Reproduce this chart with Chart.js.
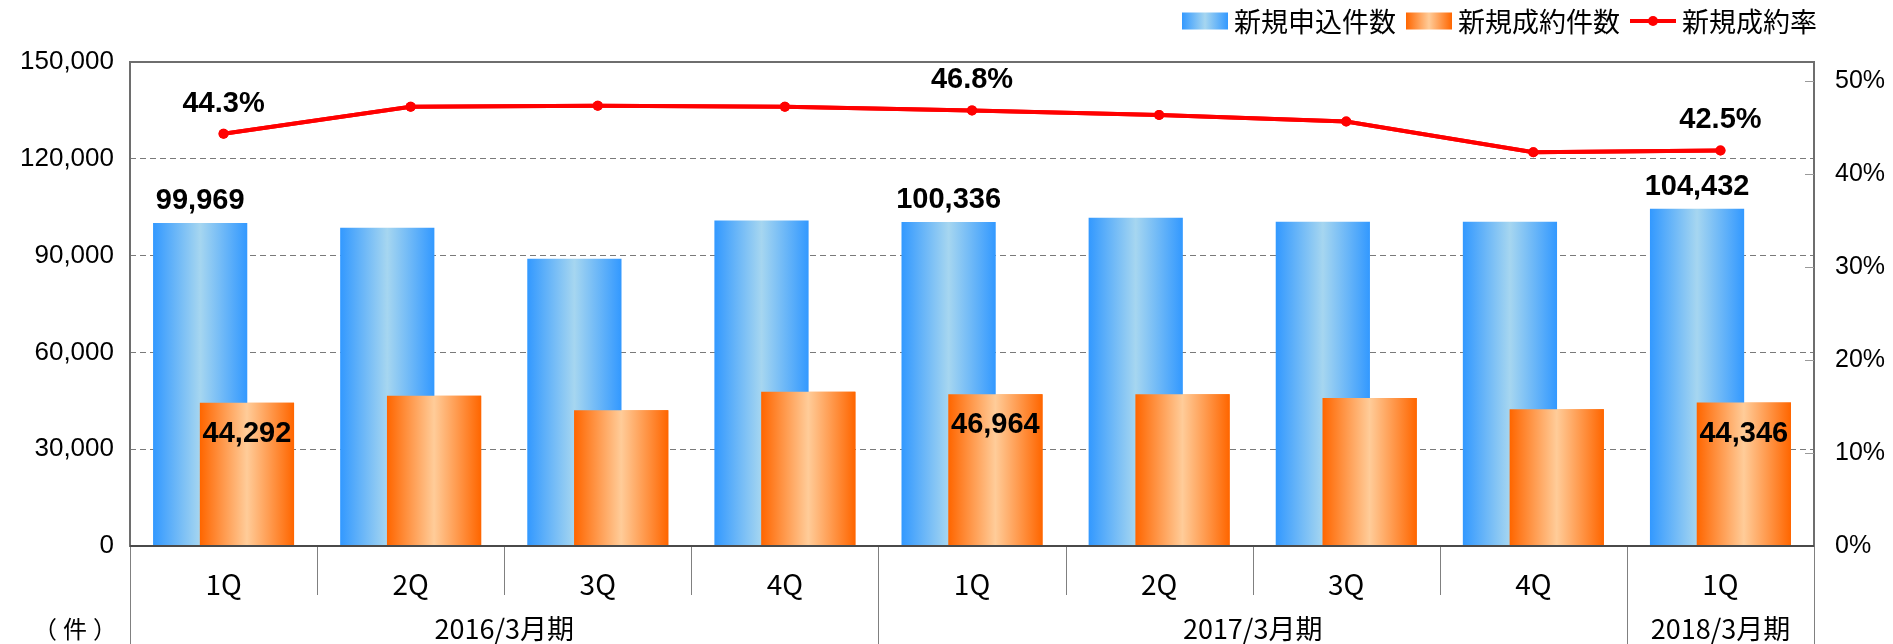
<!DOCTYPE html>
<html><head><meta charset="utf-8">
<script src="https://cdn.jsdelivr.net/npm/chart.js@4.4.0/dist/chart.umd.min.js"></script>
<style>html,body{margin:0;padding:0;background:#fff;}#wrap{width:1893px;height:644px;position:relative;}</style>
</head><body><div id="wrap"><canvas id="c"></canvas></div>
<script>
// ---- data ----
const quarters = ['1Q','2Q','3Q','4Q','1Q','2Q','3Q','4Q','1Q'];
const fiscalYears = ['2016/3月期','2017/3月期','2018/3月期'];
const fiscalYearQuarterCounts = [4,4,1];
const applications = [99969, 98500, 88900, 100800, 100336, 101600, 100400, 100400, 104432];
const contracts = [44292, 46500, 42000, 47700, 46964, 46900, 45800, 42300, 44346];
const contractRate = [44.3, 47.2, 47.3, 47.2, 46.8, 46.3, 45.6, 42.3, 42.5];
const seriesNames = ['新規申込件数','新規成約件数','新規成約率'];
const leftAxisRange = [0, 150000, 30000];
const rightAxisRange = [0, 52, 10];
const rightTickMax = 50;
const labeledPoints = [0, 4, 8];
const unitLabel = '（件）';

// ---- styles ----
const SANS = '"Liberation Sans", Arial, "Noto Sans CJK JP", sans-serif';
const NARROW = '"Liberation Sans Narrow", "Arial Narrow", "Noto Sans CJK JP", sans-serif';
const CJK = '"Noto Sans CJK JP", "Liberation Sans", sans-serif';
const CAT_PCT = 0.5, BAR_PCT = 2.0;
const BLUE = ['#3399FF', '#A6D6F0'];
const ORANGE = ['#FF6600', '#FFCC99'];
const RED = '#FF0000';

function barGrad(c, side, cols) {
  const chart = c.chart, xs = chart.scales && chart.scales.x;
  if (!xs || !xs.width || c.dataIndex === undefined) return cols[0];
  const catW = xs.width / quarters.length;
  const chunk = catW * CAT_PCT / 2;
  const center = xs.getPixelForValue(c.dataIndex) + (side - 0.5) * chunk;
  const w = chunk * BAR_PCT;
  const g = chart.ctx.createLinearGradient(center - w / 2, 0, center + w / 2, 0);
  g.addColorStop(0, cols[0]); g.addColorStop(0.5, cols[1]); g.addColorStop(1, cols[0]);
  return g;
}

const fmt = v => v.toLocaleString('en-US');

const decor = {
  id: 'decor',
  afterDatasetsDraw(chart) {
    const ctx = chart.ctx, a = chart.chartArea;
    ctx.save();
    ctx.beginPath(); ctx.rect(a.left, a.top, a.right - a.left, a.bottom - a.top); ctx.clip();
    chart.getDatasetMeta(1).controller.draw();
    chart.getDatasetMeta(2).controller.draw();
    ctx.restore();
  },
  afterDraw(chart) {
    const ctx = chart.ctx, a = chart.chartArea, xs = chart.scales.x, y2 = chart.scales.y2;
    const H = chart.height;
    ctx.save();
    // plot frame
    ctx.strokeStyle = '#6e6e6e'; ctx.lineWidth = 2;
    ctx.strokeRect(a.left, a.top, a.right - a.left, a.bottom - a.top);
    ctx.strokeStyle = '#4a4a4a';
    ctx.beginPath(); ctx.moveTo(a.left, a.bottom); ctx.lineTo(a.right, a.bottom); ctx.stroke();
    // right inner tick marks
    ctx.strokeStyle = '#9a9a9a'; ctx.lineWidth = 1;
    y2.ticks.forEach(t => {
      if (t.value === 0) return;
      const y = Math.round(y2.getPixelForValue(t.value)) + 0.5;
      ctx.beginPath(); ctx.moveTo(a.right - 9, y); ctx.lineTo(a.right, y); ctx.stroke();
    });
    // category separators (two-level axis)
    const catW = xs.getPixelForValue(1) - xs.getPixelForValue(0);
    const groupEdges = [0];
    fiscalYearQuarterCounts.forEach(n => groupEdges.push(groupEdges[groupEdges.length - 1] + n));
    ctx.strokeStyle = '#808080'; ctx.lineWidth = 1;
    for (let i = 0; i <= quarters.length; i++) {
      const x = Math.round(xs.getPixelForValue(i) - catW / 2) + 0.5;
      const long = groupEdges.includes(i);
      ctx.beginPath(); ctx.moveTo(x, a.bottom + 1); ctx.lineTo(x, long ? H : a.bottom + 49); ctx.stroke();
    }
    // group labels
    ctx.fillStyle = '#000'; ctx.textAlign = 'center'; ctx.textBaseline = 'middle';
    ctx.font = '27px ' + NARROW;
    fiscalYears.forEach((g, k) => {
      const x0 = xs.getPixelForValue(groupEdges[k]) - catW / 2;
      const x1 = xs.getPixelForValue(groupEdges[k + 1] - 1) + catW / 2;
      ctx.fillText(g, (x0 + x1) / 2, 629);
    });
    ctx.font = '24px ' + CJK;
    try { ctx.letterSpacing = '6px'; } catch (e) {}
    ctx.fillText(unitLabel, 78, 629);
    try { ctx.letterSpacing = '0px'; } catch (e) {}
    // data labels
    ctx.font = 'bold 29px ' + SANS;
    const m0 = chart.getDatasetMeta(0), m1 = chart.getDatasetMeta(1), m2 = chart.getDatasetMeta(2);
    labeledPoints.forEach(i => {
      ctx.fillText(fmt(applications[i]), m0.data[i].x, m0.data[i].y - 22);
      ctx.fillText(fmt(contracts[i]), m1.data[i].x, m1.data[i].y + 31);
      ctx.fillText(contractRate[i].toFixed(1) + '%', m2.data[i].x, m2.data[i].y - 30);
    });
    // legend (right aligned at top)
    ctx.font = '27px ' + CJK;
    ctx.textAlign = 'left';
    const sw = 46, sh = 17, gap = 6, sep = 10, cy = 21;
    let x = 1817;
    const items = seriesNames.map((n, k) => ({ n, k, w: ctx.measureText(n).width }));
    for (let k = items.length - 1; k >= 0; k--) { x -= items[k].w + gap + sw; items[k].x = x; x -= sep; }
    items.forEach(it => {
      if (it.k < 2) {
        const cols = it.k === 0 ? BLUE : ORANGE;
        const g = ctx.createLinearGradient(it.x, 0, it.x + sw, 0);
        g.addColorStop(0, cols[0]); g.addColorStop(0.5, cols[1]); g.addColorStop(1, cols[0]);
        ctx.fillStyle = g; ctx.fillRect(it.x, cy - sh / 2, sw, sh);
      } else {
        ctx.strokeStyle = RED; ctx.lineWidth = 4;
        ctx.beginPath(); ctx.moveTo(it.x, cy); ctx.lineTo(it.x + sw, cy); ctx.stroke();
        ctx.fillStyle = RED; ctx.beginPath(); ctx.arc(it.x + sw / 2, cy, 5, 0, Math.PI * 2); ctx.fill();
      }
      ctx.fillStyle = '#000';
      ctx.fillText(it.n, it.x + sw + gap, cy + 1);
    });
    ctx.restore();
  }
};

new Chart(document.getElementById('c'), {
  data: {
    labels: quarters,
    datasets: [
      { type: 'bar', label: seriesNames[0], data: applications, yAxisID: 'y', order: 0,
        backgroundColor: c => barGrad(c, 0, BLUE), borderWidth: 0,
        categoryPercentage: CAT_PCT, barPercentage: BAR_PCT },
      { type: 'bar', label: seriesNames[1], data: contracts, yAxisID: 'y', order: 0,
        backgroundColor: c => barGrad(c, 1, ORANGE), borderWidth: 0,
        categoryPercentage: CAT_PCT, barPercentage: BAR_PCT },
      { type: 'line', label: seriesNames[2], data: contractRate, yAxisID: 'y2', order: -1,
        borderColor: RED, backgroundColor: RED, borderWidth: 4, tension: 0,
        pointRadius: 5, pointBackgroundColor: RED, pointBorderWidth: 0 }
    ]
  },
  options: {
    responsive: true, maintainAspectRatio: false, animation: false, events: [],
    layout: { padding: { top: 62, left: 0, right: 0, bottom: 0 } },
    plugins: { legend: { display: false }, tooltip: { enabled: false } },
    scales: {
      x: {
        type: 'category', offset: true,
        grid: { display: false },
        border: { display: false },
        ticks: { autoSkip: false, maxRotation: 0, color: '#000', padding: 14, font: { family: NARROW, size: 28 } },
        afterFit: s => { s.height = 98; }
      },
      y: {
        position: 'left', min: leftAxisRange[0], max: leftAxisRange[1],
        ticks: { stepSize: leftAxisRange[2], color: '#000', padding: 16, font: { family: SANS, size: 26 }, callback: v => fmt(v) },
        grid: { drawTicks: false, color: c => (c.tick && (c.tick.value === leftAxisRange[0] || c.tick.value === leftAxisRange[1])) ? 'rgba(0,0,0,0)' : '#7a7a7a' },
        border: { display: false, dash: [6, 4] },
        afterFit: s => { s.width = 130; }
      },
      y2: {
        position: 'right', min: rightAxisRange[0], max: rightAxisRange[1],
        ticks: { stepSize: rightAxisRange[2], includeBounds: false, color: '#000', padding: 21, font: { family: SANS, size: 25 }, callback: v => v + '%' },
        afterBuildTicks: s => { s.ticks = s.ticks.filter(t => t.value <= rightTickMax); },
        grid: { drawOnChartArea: false, drawTicks: false },
        border: { display: false },
        afterFit: s => { s.width = 79; }
      }
    }
  },
  plugins: [decor]
});
</script>
</body></html>
